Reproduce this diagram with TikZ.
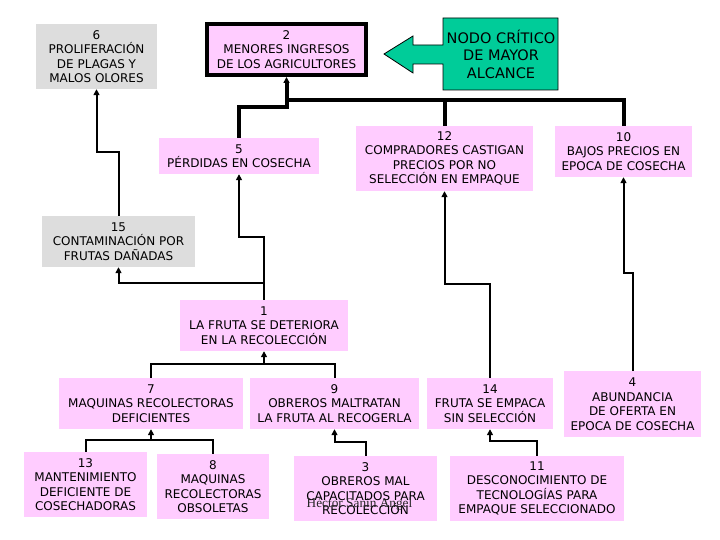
\documentclass[tikz,border=0pt]{standalone}
\usepackage{fontspec}
\setmainfont{DejaVu Sans}
\newfontfamily\firmafont{Liberation Serif}
\usetikzlibrary{arrows.meta}
\definecolor{rosabg}{RGB}{255,204,255}
\definecolor{grisbg}{RGB}{221,221,221}
\definecolor{verdebg}{RGB}{0,204,153}

\begin{document}
\begin{tikzpicture}[
    x=1pt, y=-1pt,
    caja/.style={inner sep=0pt, align=center, font=\fontsize{12}{14.5}\selectfont},
    cajarosa/.style={caja, fill=rosabg},
    cajagris/.style={caja, fill=grisbg},
    enlace/.style={line width=2pt, -{Triangle[width=6pt,length=6pt]}},
    bus/.style={line width=4pt},
    ]
    \useasboundingbox (0,0) rectangle (720,540);

    \node[cajagris, minimum width=121pt, minimum height=65pt] (n6) at (96.5,56.5) {6\\PROLIFERACIÓN\\DE PLAGAS Y\\MALOS OLORES};
    \node[cajarosa, draw, line width=4pt, minimum width=159pt, minimum height=51pt] (n2) at (286.5,49.5) {2\\MENORES INGRESOS\\DE LOS AGRICULTORES};
    \node[cajarosa, minimum width=160pt, minimum height=36pt] (n5) at (239,156) {5\\PÉRDIDAS EN COSECHA};
    \node[cajarosa, minimum width=177pt, minimum height=65pt] (n12) at (444.5,158.5) {12\\COMPRADORES CASTIGAN\\PRECIOS POR NO\\SELECCIÓN EN EMPAQUE};
    \node[cajarosa, minimum width=137pt, minimum height=51pt] (n10) at (623.5,151.5) {10\\BAJOS PRECIOS EN\\EPOCA DE COSECHA};
    \node[cajagris, minimum width=153pt, minimum height=51pt] (n15) at (118.5,241.5) {15\\CONTAMINACIÓN POR\\FRUTAS DAÑADAS};
    \node[cajarosa, minimum width=168pt, minimum height=51pt] (n1) at (264,325.5) {1\\LA FRUTA SE DETERIORA\\EN LA RECOLECCIÓN};
    \node[cajarosa, minimum width=184pt, minimum height=51pt] (n7) at (151,403.5) {7\\MAQUINAS RECOLECTORAS\\DEFICIENTES};
    \node[cajarosa, minimum width=169pt, minimum height=51pt] (n9) at (334.5,403.5) {9\\OBREROS MALTRATAN\\LA FRUTA AL RECOGERLA};
    \node[cajarosa, minimum width=126pt, minimum height=51pt] (n14) at (490,403.5) {14\\FRUTA SE EMPACA\\SIN SELECCIÓN};
    \node[cajarosa, minimum width=137pt, minimum height=66pt] (n4) at (632.5,404) {4\\ABUNDANCIA\\DE OFERTA EN\\EPOCA DE COSECHA};
    \node[cajarosa, minimum width=123pt, minimum height=65pt] (n13) at (85.5,484.5) {13\\MANTENIMIENTO\\DEFICIENTE DE\\COSECHADORAS};
    \node[cajarosa, minimum width=112pt, minimum height=65pt] (n8) at (213,486.5) {8\\MAQUINAS\\RECOLECTORAS\\OBSOLETAS};
    \node[cajarosa, minimum width=143pt, minimum height=65pt] (n3) at (365.5,488.5) {3\\OBREROS MAL\\CAPACITADOS PARA\\RECOLECCIÓN};
    \node[cajarosa, minimum width=174pt, minimum height=65pt] (n11) at (537,488.5) {11\\DESCONOCIMIENTO DE\\TECNOLOGÍAS PARA\\EMPAQUE SELECCIONADO};

    \draw[fill=verdebg, line width=0.8pt] (558,18) -- (443,18) -- (443,45) -- (413,45) -- (413,36)
        -- (384,54) -- (413,73) -- (413,64) -- (443,64) -- (443,90) -- (558,90) -- cycle;
    \node[align=center, font=\fontsize{14.5}{17.5}\selectfont] (critico) at (501,54) {NODO CRÍTICO\\DE MAYOR\\ALCANCE};

    \coordinate (j1) at (286.5,100);
    \coordinate (j2) at (286.5,107);
    \coordinate (j3) at (264,364);
    \coordinate (j4) at (151,440);
    \draw[bus] (n10.north) |- (j1);
    \draw[bus] (n12.north) -- (n12.north |- j1);
    \draw[bus, -{Triangle[width=6pt,length=6pt]}] (n5.north) |- (j2) -- (n2.south);

    \draw[enlace] (n15.north) -- ++(0,-64) -| (n6.south);
    \draw[enlace] (n1.north) -- ++(0,-63) -| (n5.south);
    \draw[enlace] (n1.north) -- ++(0,-17) -| (n15.south);
    \draw[enlace] (n14.north) -- ++(0,-94) -| (n12.south);
    \draw[enlace] (n4.north) -- ++(0,-98) -| (n10.south);
    \draw[line width=2pt] (n7.north) |- (j3) -| (n9.north);
    \draw[enlace] (j3) -- (n1.south);
    \draw[line width=2pt] (n13.north) |- (j4) -| (n8.north);
    \draw[enlace] (j4) -- (n7.south);
    \draw[enlace] (n3.north) -- ++(0,-14) -| (n9.south);
    \draw[enlace] (n11.north) -- ++(0,-15) -| (n14.south);

    \node[anchor=base, font=\firmafont\fontsize{13.3}{14}\selectfont, text=black!85] (firma) at (359.5,507) {Héctor Sanin Angel};
\end{tikzpicture}
\end{document}
